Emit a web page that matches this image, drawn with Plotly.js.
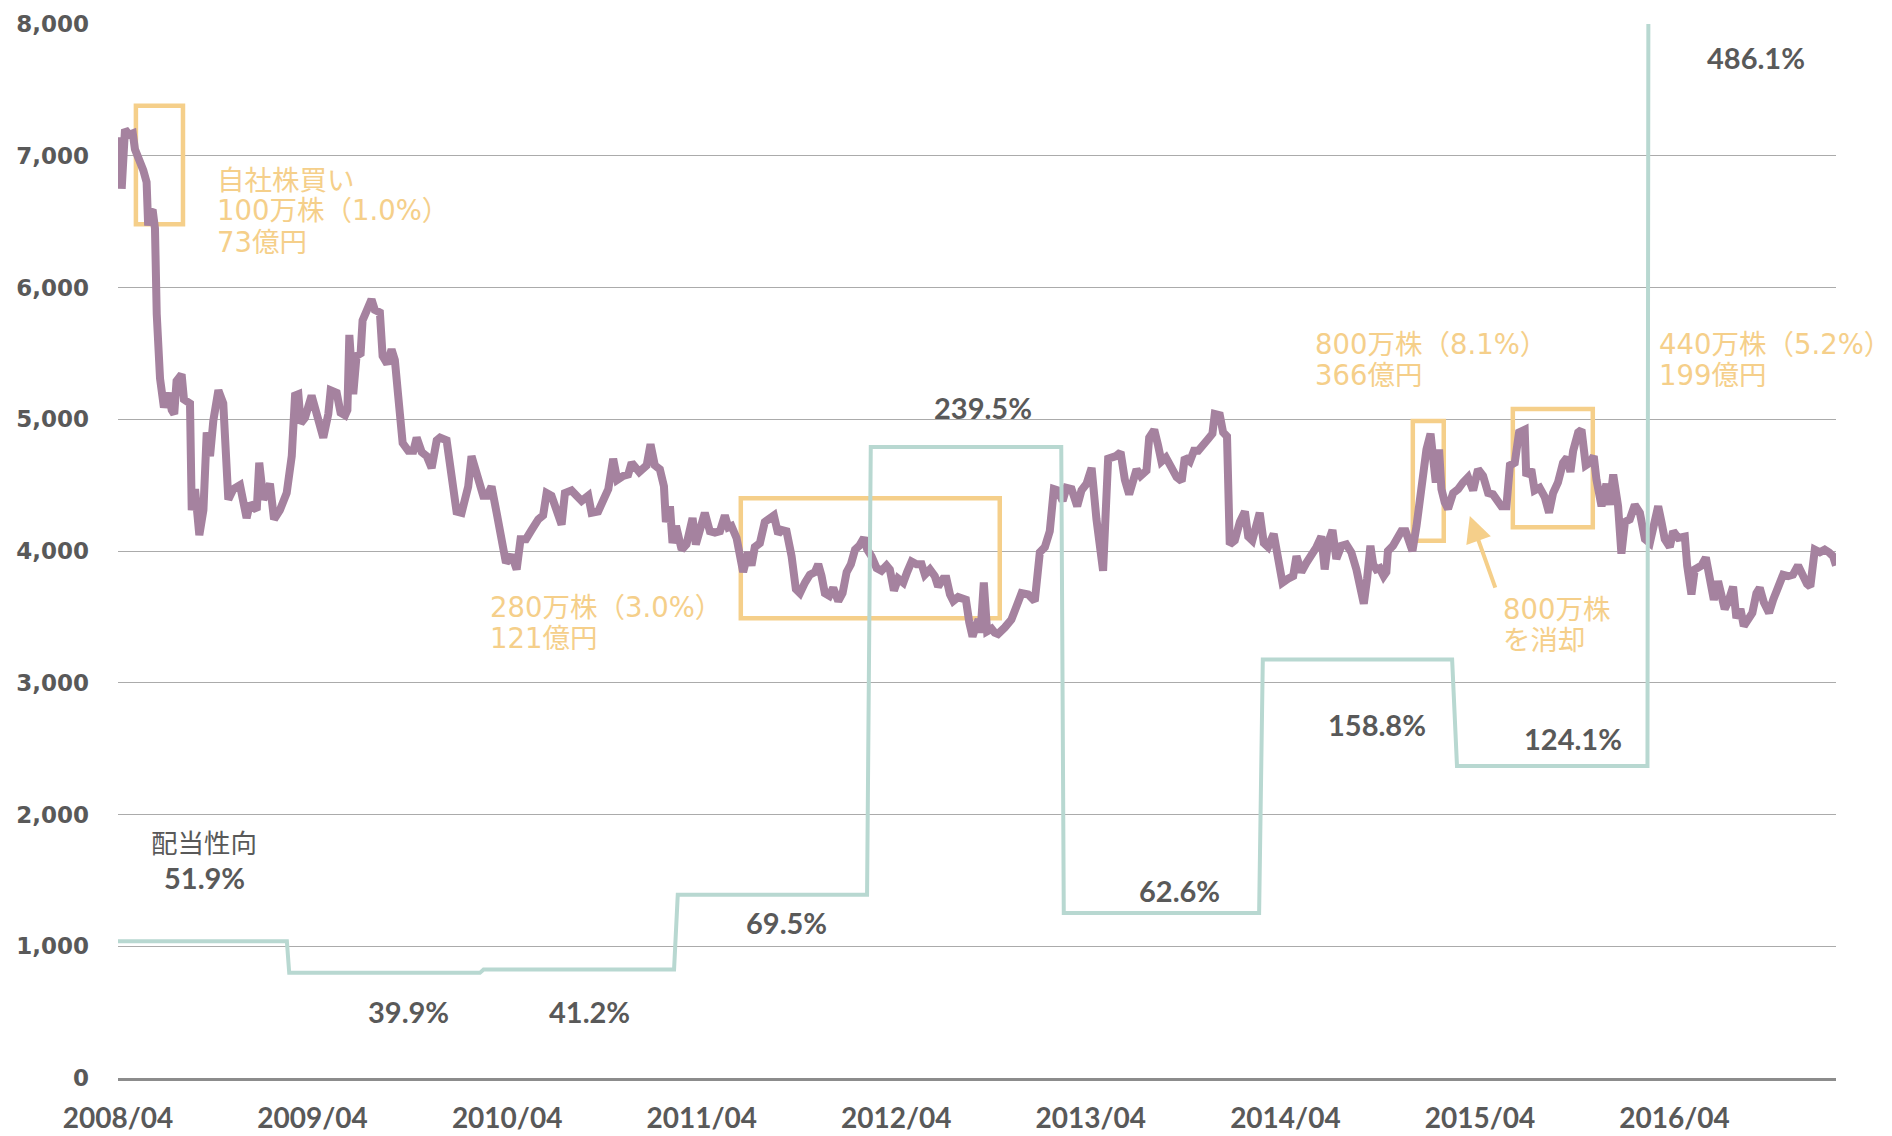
<!DOCTYPE html>
<html>
<head>
<meta charset="utf-8">
<script src="https://cdn.plot.ly/plotly-3.0.1.min.js"></script>
<style>
html,body{margin:0;padding:0;background:#fff;}
#chart{width:1892px;height:1136px;}
</style>
</head>
<body>
<div id="chart"></div>
<script>
// ---------- DATA ----------
// weekly share price (decimal year, yen)
const pricePoints = [
[2008.257,7140],[2008.269,6750],[2008.286,7200],[2008.308,7160],[2008.326,7170],[2008.337,7050],
[2008.380,6890],[2008.397,6800],[2008.405,6470],[2008.414,6570],[2008.428,6590],[2008.440,6450],
[2008.449,5800],[2008.466,5310],[2008.486,5090],[2008.509,5200],[2008.526,5070],[2008.539,5040],
[2008.551,5290],[2008.577,5340],[2008.589,5150],[2008.620,5120],[2008.629,4310],[2008.646,4470],
[2008.668,4120],[2008.689,4310],[2008.706,4900],[2008.723,4720],[2008.740,4990],[2008.766,5220],
[2008.791,5120],[2008.817,4390],[2008.843,4470],[2008.877,4500],[2008.911,4250],[2008.928,4360],
[2008.963,4310],[2008.976,4670],[2008.997,4390],[2009.031,4510],[2009.052,4240],[2009.082,4310],
[2009.117,4440],[2009.143,4720],[2009.160,5180],[2009.177,5190],[2009.189,4970],[2009.211,5010],
[2009.245,5180],[2009.271,5040],[2009.305,4860],[2009.331,5040],[2009.343,5220],[2009.374,5200],
[2009.394,5050],[2009.417,5030],[2009.429,5070],[2009.439,5640],[2009.459,5190],[2009.476,5480],
[2009.497,5500],[2009.507,5750],[2009.524,5800],[2009.553,5910],[2009.570,5830],[2009.596,5810],
[2009.610,5480],[2009.634,5420],[2009.656,5530],[2009.673,5450],[2009.690,5180],[2009.713,4820],
[2009.742,4760],[2009.768,4760],[2009.785,4860],[2009.811,4750],[2009.837,4720],[2009.862,4630],
[2009.888,4840],[2009.905,4860],[2009.939,4840],[2009.965,4540],[2009.990,4300],[2010.016,4290],
[2010.050,4490],[2010.067,4720],[2010.101,4570],[2010.127,4420],[2010.148,4420],[2010.170,4490],
[2010.196,4290],[2010.222,4110],[2010.244,3910],[2010.273,3970],[2010.299,3860],[2010.319,4090],
[2010.347,4090],[2010.376,4160],[2010.410,4240],[2010.435,4270],[2010.453,4440],[2010.478,4420],
[2010.504,4320],[2010.530,4200],[2010.547,4440],[2010.581,4460],[2010.607,4420],[2010.633,4380],
[2010.667,4420],[2010.684,4290],[2010.718,4300],[2010.744,4390],[2010.770,4470],[2010.795,4700],
[2010.816,4540],[2010.847,4570],[2010.872,4580],[2010.890,4670],[2010.929,4600],[2010.967,4650],
[2010.987,4810],[2011.009,4650],[2011.035,4620],[2011.056,4490],[2011.066,4220],[2011.087,4340],
[2011.100,4060],[2011.118,4190],[2011.147,4010],[2011.172,4050],[2011.203,4250],[2011.220,4050],
[2011.250,4190],[2011.266,4290],[2011.292,4150],[2011.318,4140],[2011.344,4150],[2011.369,4270],
[2011.387,4180],[2011.403,4190],[2011.429,4100],[2011.446,3960],[2011.463,3840],[2011.489,3990],
[2011.506,3890],[2011.523,4030],[2011.549,4060],[2011.574,4220],[2011.592,4240],[2011.621,4270],
[2011.643,4130],[2011.661,4160],[2011.686,4150],[2011.712,3960],[2011.734,3710],[2011.755,3680],
[2011.781,3760],[2011.806,3820],[2011.832,3840],[2011.849,3900],[2011.866,3810],[2011.883,3680],
[2011.906,3660],[2011.926,3720],[2011.952,3620],[2011.974,3680],[2011.995,3840],[2012.017,3900],
[2012.038,4010],[2012.060,4040],[2012.084,4100],[2012.101,4010],[2012.123,3960],[2012.149,3870],
[2012.174,3850],[2012.200,3890],[2012.217,3860],[2012.238,3700],[2012.260,3790],[2012.286,3760],
[2012.306,3840],[2012.329,3920],[2012.354,3900],[2012.380,3900],[2012.397,3820],[2012.423,3860],
[2012.448,3810],[2012.465,3730],[2012.491,3790],[2012.508,3790],[2012.526,3670],[2012.543,3620],
[2012.568,3650],[2012.594,3630],[2012.608,3630],[2012.625,3460],[2012.642,3350],[2012.659,3430],
[2012.673,3480],[2012.683,3380],[2012.700,3760],[2012.717,3390],[2012.740,3410],[2012.756,3380],
[2012.773,3370],[2012.808,3420],[2012.842,3480],[2012.868,3580],[2012.894,3680],[2012.928,3670],
[2012.962,3620],[2012.988,3990],[2013.014,4030],[2013.039,4150],[2013.060,4470],[2013.082,4460],
[2013.105,4380],[2013.125,4480],[2013.151,4470],[2013.180,4340],[2013.202,4460],[2013.228,4510],
[2013.254,4630],[2013.279,4240],[2013.313,3850],[2013.339,4700],[2013.365,4710],[2013.379,4720],
[2013.403,4750],[2013.425,4540],[2013.447,4430],[2013.468,4540],[2013.485,4620],[2013.506,4570],
[2013.536,4610],[2013.550,4860],[2013.576,4920],[2013.596,4800],[2013.613,4680],[2013.636,4710],
[2013.665,4620],[2013.691,4560],[2013.717,4530],[2013.733,4710],[2013.759,4680],[2013.780,4760],
[2013.802,4760],[2013.828,4820],[2013.853,4850],[2013.875,4890],[2013.887,5040],[2013.913,5030],
[2013.930,4900],[2013.950,4870],[2013.964,4050],[2013.990,4080],[2014.016,4220],[2014.042,4300],
[2014.059,4110],[2014.080,4080],[2014.101,4240],[2014.118,4290],[2014.139,4060],[2014.161,4030],
[2014.190,4130],[2014.213,3910],[2014.235,3760],[2014.264,3790],[2014.290,3810],[2014.307,3960],
[2014.332,3840],[2014.358,3910],[2014.384,3960],[2014.410,4030],[2014.435,4110],[2014.452,3860],
[2014.469,4060],[2014.492,4160],[2014.512,3940],[2014.538,4040],[2014.563,4050],[2014.589,3990],
[2014.615,3860],[2014.632,3730],[2014.653,3600],[2014.670,3790],[2014.687,4040],[2014.701,3900],
[2014.717,3860],[2014.735,3870],[2014.755,3810],[2014.769,3840],[2014.777,4000],[2014.803,4040],
[2014.824,4100],[2014.846,4150],[2014.868,4150],[2014.889,4060],[2014.903,4000],[2014.924,4190],
[2014.950,4490],[2014.975,4770],[2014.996,4890],[2015.013,4650],[2015.023,4520],[2015.040,4770],
[2015.052,4470],[2015.069,4370],[2015.086,4320],[2015.112,4440],[2015.138,4470],[2015.163,4520],
[2015.189,4560],[2015.215,4460],[2015.240,4620],[2015.266,4570],[2015.292,4440],[2015.317,4430],
[2015.343,4380],[2015.360,4340],[2015.386,4340],[2015.404,4650],[2015.429,4670],[2015.451,4900],
[2015.480,4920],[2015.488,4570],[2015.514,4620],[2015.531,4460],[2015.557,4480],[2015.583,4410],
[2015.605,4290],[2015.626,4440],[2015.651,4520],[2015.677,4670],[2015.698,4710],[2015.715,4600],
[2015.729,4760],[2015.755,4900],[2015.772,4920],[2015.794,4650],[2015.815,4670],[2015.835,4720],
[2015.849,4540],[2015.875,4340],[2015.900,4510],[2015.917,4350],[2015.935,4580],[2015.960,4340],
[2015.977,3980],[2015.995,4220],[2016.020,4240],[2016.046,4350],[2016.072,4290],[2016.098,4090],
[2016.123,4060],[2016.149,4220],[2016.166,4340],[2016.183,4220],[2016.200,4090],[2016.226,4030],
[2016.243,4150],[2016.269,4100],[2016.303,4110],[2016.315,3890],[2016.337,3670],[2016.354,3860],
[2016.389,3890],[2016.411,3950],[2016.431,3790],[2016.452,3630],[2016.474,3770],[2016.491,3620],
[2016.508,3560],[2016.530,3630],[2016.551,3730],[2016.568,3490],[2016.589,3560],[2016.606,3430],
[2016.628,3470],[2016.650,3530],[2016.671,3680],[2016.688,3720],[2016.709,3610],[2016.736,3530],
[2016.757,3630],[2016.782,3710],[2016.808,3820],[2016.834,3810],[2016.859,3820],[2016.885,3890],
[2016.911,3790],[2016.931,3750],[2016.948,3730],[2016.971,4010],[2016.997,3990],[2017.022,4010],
[2017.044,3990],[2017.065,3960],[2017.080,3890]
];
const priceDate  = pricePoints.map(p => p[0]);
const priceValue = pricePoints.map(p => p[1]);

// dividend payout ratio (%) per fiscal period, drawn at 20 yen per 1 %
const payoutStart = [2008.250, 2009.130, 2010.129, 2011.127, 2012.119, 2013.111, 2014.134, 2015.132, 2016.117];
const payoutEnd   = [2009.118, 2010.110, 2011.108, 2012.100, 2013.098, 2014.115, 2015.107, 2016.111, 2017.080];
const payoutRatio = [51.9, 39.9, 41.2, 69.5, 239.5, 62.6, 158.8, 118.4, 486.1];
const payoutLabel = ['51.9%', '39.9%', '41.2%', '69.5%', '239.5%', '62.6%', '158.8%', '124.1%', '486.1%'];

const tickYears  = [2008.25, 2009.25, 2010.25, 2011.25, 2012.25, 2013.25, 2014.25, 2015.25, 2016.25];
const tickLabels = ['2008/04', '2009/04', '2010/04', '2011/04', '2012/04', '2013/04', '2014/04', '2015/04', '2016/04'];

const noteLines = [
  ['自社株買い', '100万株（1.0%）', '73億円'],
  ['280万株（3.0%）', '121億円'],
  ['800万株（8.1%）', '366億円'],
  ['440万株（5.2%）', '199億円'],
  ['800万株', 'を消却']
];

// ---------- BUILD ----------
const payX = [], payY = [];
for (let i = 0; i < payoutRatio.length; i++) {
  payX.push(payoutStart[i], payoutEnd[i]);
  payY.push(payoutRatio[i], payoutRatio[i]);
}

const PURPLE = '#A5829F';
const TEAL = '#B8D8D1';
const ORANGE = '#F5CF8A';
const GREY = '#595959';
const NUMFONT = 'Lato, Noto Sans, sans-serif';
const NOTEFONT = 'DejaVu Sans, Noto Sans CJK JP, sans-serif';

const traces = [
  {x: payX, y: payY, yaxis: 'y2', type: 'scatter', mode: 'lines',
   line: {color: TEAL, width: 4}, hoverinfo: 'skip', showlegend: false},
  {x: priceDate, y: priceValue, type: 'scatter', mode: 'lines',
   line: {color: PURPLE, width: 8, shape: 'linear'}, hoverinfo: 'skip', showlegend: false}
];

// layout positions
const labelPos = [
  [2008.692, 1523], [2009.745, 505], [2010.675, 505], [2011.688, 1181],
  [2012.695, 5093], [2013.707, 1424], [2014.720, 2685], [2015.727, 2579], [2016.667, 7743]
];
const notePos = [
  {x: 2008.748, y: [6817, 6589, 6346]},
  {x: 2010.150, y: [3574, 3338]},
  {x: 2014.390, y: [5571, 5336]},
  {x: 2016.160, y: [5571, 5336]},
  {x: 2015.358, y: [3558, 3327]}
];

const annotations = [];
payoutLabel.forEach((t, i) => {
  annotations.push({x: labelPos[i][0], y: labelPos[i][1], xref: 'x', yref: 'y', text: t,
    showarrow: false, xanchor: 'center', yanchor: 'middle',
    font: {family: NUMFONT, size: 29, color: GREY, weight: 700}});
});
annotations.push({x: 2008.692, y: 1796, xref: 'x', yref: 'y', text: '配当性向', showarrow: false,
  xanchor: 'center', yanchor: 'middle',
  font: {family: 'Noto Sans CJK JP, sans-serif', size: 26.5, color: GREY}});

noteLines.forEach((lines, i) => {
  lines.forEach((t, j) => {
    annotations.push({x: notePos[i].x, y: notePos[i].y[j], xref: 'x', yref: 'y', text: t,
      showarrow: false, xanchor: 'left', yanchor: 'middle',
      font: {family: NOTEFONT, size: 27.5, color: ORANGE}});
  });
});

// arrow pointing at the cancelled-shares box
annotations.push({x: 2015.198, y: 4265, xref: 'x', yref: 'y', ax: 26, ay: 73, text: '',
  showarrow: true, arrowhead: 2, arrowsize: 1.3, arrowwidth: 4, arrowcolor: ORANGE});

const boxes = [
  [2008.342, 2008.584, 6480, 7380],
  [2011.451, 2012.782, 3490, 4400],
  [2014.905, 2015.064, 4078, 4986],
  [2015.419, 2015.830, 4181, 5077]
];
const shapes = boxes.map(b => ({type: 'rect', xref: 'x', yref: 'y', x0: b[0], x1: b[1], y0: b[2], y1: b[3],
  line: {color: ORANGE, width: 4.5}, fillcolor: 'rgba(0,0,0,0)', layer: 'between'}));

const layout = {
  width: 1892, height: 1136,
  margin: {l: 118, r: 56, t: 24, b: 58, pad: 0},
  paper_bgcolor: '#ffffff', plot_bgcolor: '#ffffff',
  showlegend: false,
  xaxis: {
    type: 'linear', range: [2008.25, 2017.08],
    tickmode: 'array', tickvals: tickYears, ticktext: tickLabels,
    showgrid: false, zeroline: false,
    showline: true, linecolor: '#8C8C8C', linewidth: 2.5,
    ticks: '', ticklabelstandoff: 14,
    tickfont: {family: NUMFONT, size: 28, color: GREY, weight: 700}
  },
  yaxis: {
    range: [0, 8000], dtick: 1000, tick0: 0, tickformat: ',d',
    showgrid: true, gridcolor: '#ABABAB', gridwidth: 1,
    zeroline: false, showline: false, ticks: '', ticklabelstandoff: 28,
    tickfont: {family: 'DejaVu Sans, sans-serif', size: 23, color: GREY, weight: 700}
  },
  yaxis2: {overlaying: 'y', range: [0, 400], visible: false, showgrid: false, zeroline: false},
  annotations: annotations,
  shapes: shapes
};

Plotly.newPlot('chart', traces, layout, {displayModeBar: false, staticPlot: true});
</script>
</body>
</html>
